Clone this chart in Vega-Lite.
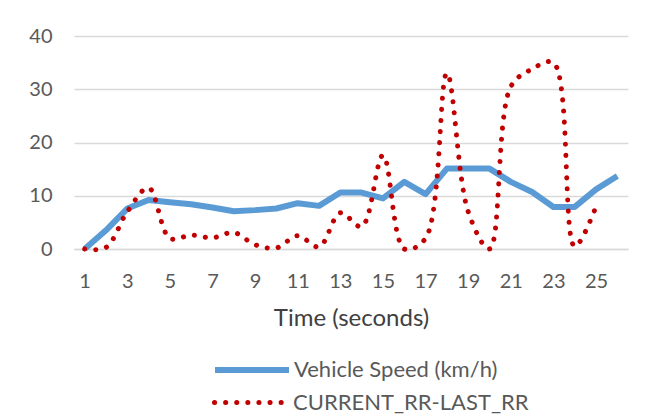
{
  "$schema": "https://vega.github.io/schema/vega-lite/v6.json",
  "width": 554,
  "height": 213,
  "autosize": {"type": "none"},
  "padding": {"left": 74, "top": 36, "right": 32, "bottom": 168},
  "background": "white",
  "config": {"view": {"stroke": null}, "font": "Lato"},
  "data": {
    "values": [
      {"t": 1, "speed": 0, "rr": 0},
      {"t": 2, "speed": 3.5, "rr": 0.3},
      {"t": 3, "speed": 7.6, "rr": 7},
      {"t": 4, "speed": 9.2, "rr": 11.5},
      {"t": 5, "speed": 8.8, "rr": 2},
      {"t": 6, "speed": 8.4, "rr": 2.6},
      {"t": 7, "speed": 7.8, "rr": 2.1},
      {"t": 8, "speed": 7.1, "rr": 3.1},
      {"t": 9, "speed": 7.3, "rr": 0.8},
      {"t": 10, "speed": 7.6, "rr": 0.2},
      {"t": 11, "speed": 8.6, "rr": 2.5},
      {"t": 12, "speed": 8.1, "rr": 0.4},
      {"t": 13, "speed": 10.6, "rr": 6.8},
      {"t": 14, "speed": 10.6, "rr": 4.2},
      {"t": 15, "speed": 9.5, "rr": 17.6},
      {"t": 16, "speed": 12.6, "rr": 0},
      {"t": 17, "speed": 10.3, "rr": 2},
      {"t": 18, "speed": 15.1, "rr": 33},
      {"t": 19, "speed": 15.1, "rr": 7},
      {"t": 20, "speed": 15.1, "rr": 0},
      {"t": 21, "speed": 12.6, "rr": 30.5},
      {"t": 22, "speed": 10.7, "rr": 33.8},
      {"t": 23, "speed": 7.9, "rr": 35},
      {"t": 24, "speed": 7.9, "rr": 0.5},
      {"t": 25, "speed": 11.2, "rr": 8},
      {"t": 26, "speed": 13.7, "rr": null}
    ]
  },
  "layer": [
    {
      "mark": {"type": "line", "strokeWidth": 6, "strokeJoin": "round", "strokeCap": "butt"},
      "encoding": {
        "x": {
          "field": "t", "type": "quantitative",
          "scale": {"domain": [0.5, 26.5], "nice": false, "zero": false},
          "axis": {
            "values": [1, 3, 5, 7, 9, 11, 13, 15, 17, 19, 21, 23, 25],
            "grid": false, "domain": true, "domainColor": "#d9d9d9", "domainWidth": 1.5,
            "ticks": false, "labelFontSize": 20, "labelColor": "#595959", "labelPadding": 22,
            "title": "Time (seconds)", "titleFontSize": 24, "titleFontWeight": "normal",
            "titleColor": "#404040", "titlePadding": 15
          }
        },
        "y": {
          "field": "speed", "type": "quantitative",
          "scale": {"domain": [0, 40], "nice": false},
          "axis": {
            "values": [0, 10, 20, 30, 40], "title": null, "grid": true,
            "gridColor": "#d9d9d9", "gridWidth": 1.5, "domain": false, "ticks": false,
            "labelFontSize": 20, "labelColor": "#595959", "labelPadding": 22
          }
        },
        "color": {
          "datum": "Vehicle Speed (km/h)",
          "scale": {"range": ["#5B9BD5"]},
          "legend": {
            "orient": "none", "legendX": 138, "legendY": 294, "title": null,
            "symbolType": "stroke", "symbolSize": 5476, "symbolStrokeWidth": 6,
            "labelFontSize": 22, "labelColor": "#595959", "labelOffset": 2, "labelLimit": 500, "padding": 0
          }
        }
      }
    },
    {
      "mark": {"type": "line", "interpolate": "catmull-rom", "strokeWidth": 5, "strokeCap": "round", "color": "#C00000"},
      "encoding": {
        "x": {"field": "t", "type": "quantitative"},
        "y": {"field": "rr", "type": "quantitative"},
        "strokeDash": {
          "datum": "CURRENT_RR-LAST_RR",
          "scale": {"range": [[0.1, 11]]},
          "legend": {
            "orient": "none", "legendX": 138, "legendY": 327, "title": null,
            "symbolType": "stroke", "symbolSize": 5476, "symbolStrokeWidth": 5,
            "symbolStrokeColor": "#C00000",
            "labelFontSize": 22, "labelColor": "#595959", "labelOffset": 2, "labelLimit": 500, "padding": 0,
            "encode": {"symbols": {"update": {"strokeCap": {"value": "round"}, "stroke": {"value": "#C00000"}}}}
          }
        }
      }
    }
  ]
}
